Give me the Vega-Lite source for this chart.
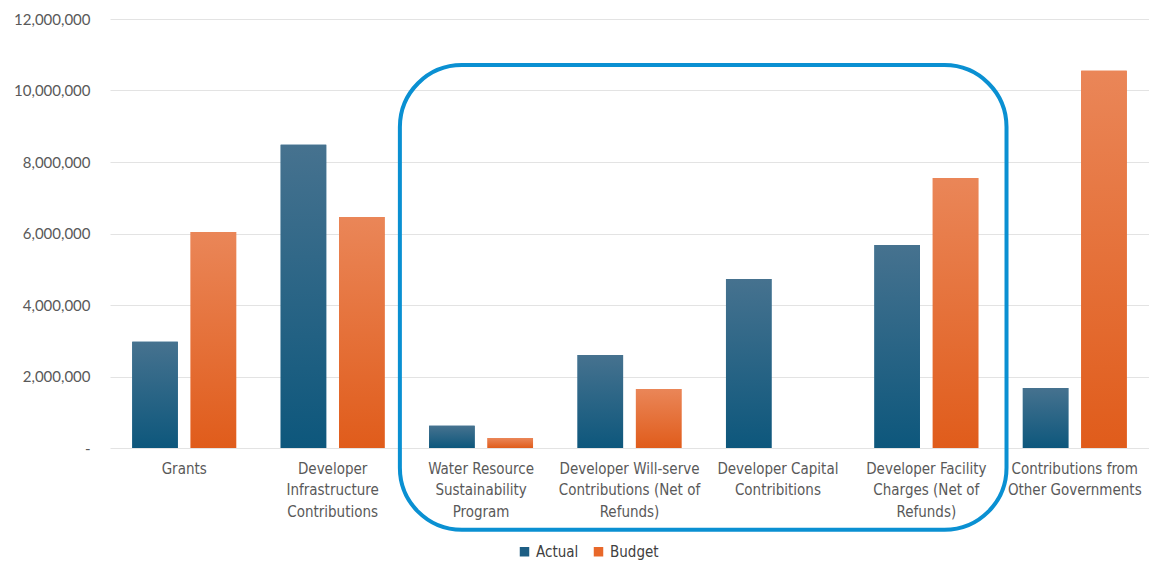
{
  "$schema": "https://vega.github.io/schema/vega-lite/v6.json",
  "width": 1149,
  "height": 561,
  "autosize": {"type": "fit", "contains": "padding"},
  "padding": {"left": 13, "top": 12, "right": 0, "bottom": 3},
  "background": "white",
  "config": {
    "view": {"stroke": null},
    "font": "Lato",
    "axis": {"labelColor": "#595959"}
  },
  "datasets": {
    "bars": [
      {"category": "Grants", "series": "Actual", "value": 2970000},
      {"category": "Grants", "series": "Budget", "value": 6040000},
      {"category": "Developer Infrastructure Contributions", "series": "Actual", "value": 8480000},
      {"category": "Developer Infrastructure Contributions", "series": "Budget", "value": 6460000},
      {"category": "Water Resource Sustainability Program", "series": "Actual", "value": 620000},
      {"category": "Water Resource Sustainability Program", "series": "Budget", "value": 280000},
      {"category": "Developer Will-serve Contributions (Net of Refunds)", "series": "Actual", "value": 2600000},
      {"category": "Developer Will-serve Contributions (Net of Refunds)", "series": "Budget", "value": 1650000},
      {"category": "Developer Capital Contribitions", "series": "Actual", "value": 4730000},
      {"category": "Developer Capital Contribitions", "series": "Budget", "value": 0},
      {"category": "Developer Facility Charges (Net of Refunds)", "series": "Actual", "value": 5680000},
      {"category": "Developer Facility Charges (Net of Refunds)", "series": "Budget", "value": 7550000},
      {"category": "Contributions from Other Governments", "series": "Actual", "value": 1680000},
      {"category": "Contributions from Other Governments", "series": "Budget", "value": 10550000}
    ],
    "highlight": [
      {"start": 1.953, "end": 6.04, "top": 10710000, "bottom": -2290000}
    ]
  },
  "layer": [
    {
      "data": {"name": "bars"},
      "encoding": {
        "x": {
          "field": "category", "type": "nominal", "sort": null,
          "scale": {"paddingInner": 0.3, "paddingOuter": 0.15},
          "axis": {
            "title": null, "labelAngle": 0, "ticks": false, "domain": false,
            "labelPadding": 13, "labelLineHeight": 21.5, "labelBaseline": "top",
            "labelFont": "DejaVu Sans Condensed", "labelFontSize": 15,
            "labelExpr": "{'Grants':['Grants'],'Developer Infrastructure Contributions':['Developer','Infrastructure','Contributions'],'Water Resource Sustainability Program':['Water Resource','Sustainability','Program'],'Developer Will-serve Contributions (Net of Refunds)':['Developer Will-serve','Contributions (Net of','Refunds)'],'Developer Capital Contribitions':['Developer Capital','Contribitions'],'Developer Facility Charges (Net of Refunds)':['Developer Facility','Charges (Net of','Refunds)'],'Contributions from Other Governments':['Contributions from','Other Governments']}[datum.label]"
          }
        },
        "xOffset": {"field": "series", "type": "nominal", "scale": {"paddingInner": 0.22}},
        "y": {
          "field": "value", "type": "quantitative",
          "scale": {"domain": [0, 12000000], "nice": false},
          "axis": {
            "title": null, "values": [0, 2000000, 4000000, 6000000, 8000000, 10000000, 12000000],
            "ticks": false, "domain": false, "gridColor": "#E3E3E3", "gridWidth": 1.2,
            "labelPadding": 20, "labelFont": "Lato", "labelFontSize": 15, "labelOverlap": false,
            "labelExpr": "datum.value === 0 ? '-' : format(datum.value, ',')"
          }
        }
      },
      "layer": [
        {
          "mark": {"type": "bar"},
          "encoding": {
            "color": {
              "field": "series", "type": "nominal",
              "scale": {"domain": ["Actual", "Budget"], "range": ["#1D5E84", "#E8682A"]},
              "legend": {
                "title": null, "orient": "none", "legendX": 407, "legendY": 525, "direction": "horizontal",
                "symbolType": "square", "symbolSize": 90, "labelFontSize": 15,
                "labelColor": "#404040", "labelFont": "DejaVu Sans Condensed", "columnPadding": 12
              }
            }
          }
        },
        {
          "mark": {"type": "bar"},
          "encoding": {
            "fill": {
              "condition": {
                "test": "datum.series === 'Actual'",
                "value": {"gradient": "linear", "x1": 0, "y1": 0, "x2": 0, "y2": 1, "stops": [{"offset": 0, "color": "#46728F"}, {"offset": 1, "color": "#0D577C"}]}
              },
              "value": {"gradient": "linear", "x1": 0, "y1": 0, "x2": 0, "y2": 1, "stops": [{"offset": 0, "color": "#EA8658"}, {"offset": 1, "color": "#E05C1B"}]}
            }
          }
        }
      ]
    },
    {
      "data": {"name": "highlight"},
      "mark": {"type": "rect", "filled": false, "stroke": "#0A90D2", "strokeWidth": 4, "cornerRadius": 62, "clip": false},
      "encoding": {
        "x": {"field": "start", "type": "quantitative", "scale": {"domain": [0, 7], "nice": false, "zero": false}, "axis": null},
        "x2": {"field": "end"},
        "y": {"field": "top", "type": "quantitative"},
        "y2": {"field": "bottom"}
      }
    }
  ],
  "resolve": {"scale": {"x": "independent"}}
}
